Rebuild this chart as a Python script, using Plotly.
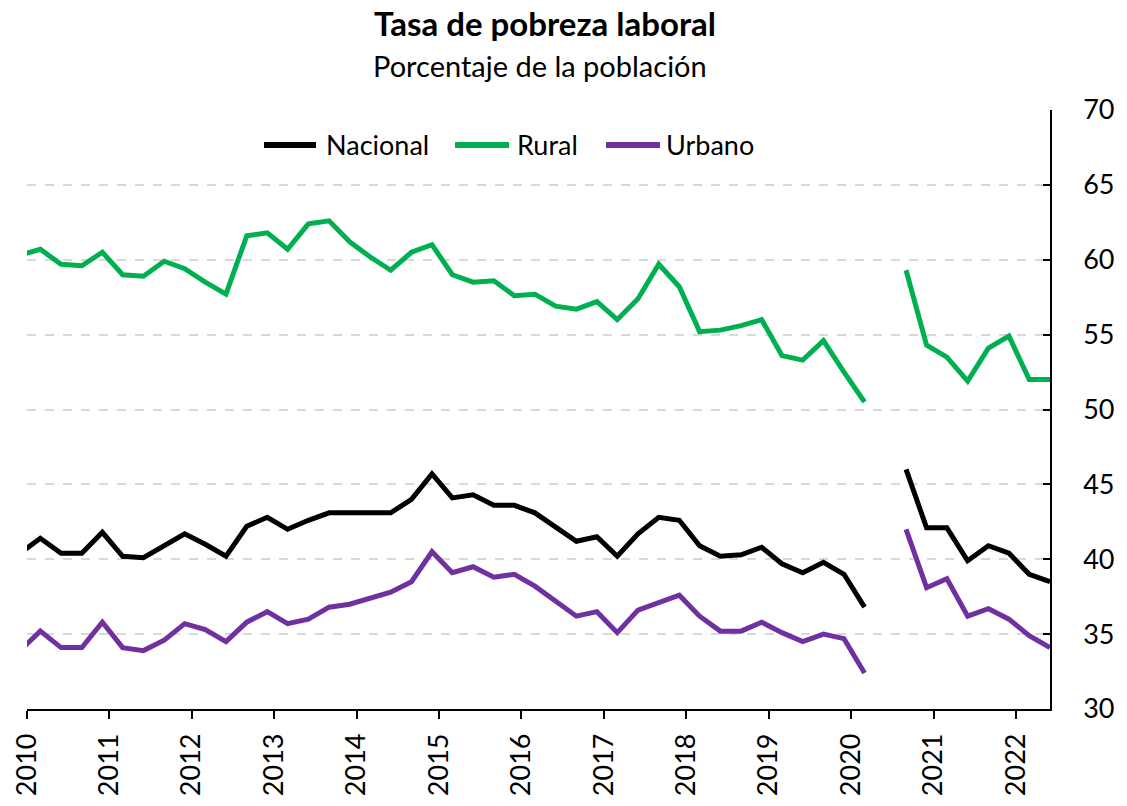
import pandas as pd
import plotly.graph_objects as go

# Quarterly periods (quarter-end months), Dec-2009 .. Jun-2022
periods = pd.date_range("2009-12-01", periods=51, freq="3MS")

nacional = [40.4, 41.4, 40.4, 40.4, 41.8, 40.2, 40.1, 40.9, 41.7, 41.0, 40.2,
            42.2, 42.8, 42.0, 42.6, 43.1, 43.1, 43.1, 43.1, 44.0, 45.7, 44.1,
            44.3, 43.6, 43.6, 43.1, 42.1, 41.2, 41.5, 40.2, 41.7, 42.8, 42.6,
            40.9, 40.2, 40.3, 40.8, 39.7, 39.1, 39.8, 39.0, 36.8,
            None,
            46.0, 42.1, 42.1, 39.9, 40.9, 40.4, 39.0, 38.5]

rural = [60.3, 60.7, 59.7, 59.6, 60.5, 59.0, 58.9, 59.9, 59.4, 58.5, 57.7,
         61.6, 61.8, 60.7, 62.4, 62.6, 61.2, 60.2, 59.3, 60.5, 61.0, 59.0,
         58.5, 58.6, 57.6, 57.7, 56.9, 56.7, 57.2, 56.0, 57.4, 59.7, 58.2,
         55.2, 55.3, 55.6, 56.0, 53.6, 53.3, 54.6, 52.5, 50.5,
         None,
         59.3, 54.3, 53.5, 51.9, 54.1, 54.9, 52.0, 52.0]

urbano = [33.9, 35.2, 34.1, 34.1, 35.8, 34.1, 33.9, 34.6, 35.7, 35.3, 34.5,
          35.8, 36.5, 35.7, 36.0, 36.8, 37.0, 37.4, 37.8, 38.5, 40.5, 39.1,
          39.5, 38.8, 39.0, 38.2, 37.2, 36.2, 36.5, 35.1, 36.6, 37.1, 37.6,
          36.2, 35.2, 35.2, 35.8, 35.1, 34.5, 35.0, 34.7, 32.4,
          None,
          42.0, 38.1, 38.7, 36.2, 36.7, 36.0, 34.9, 34.1]

year_ticks = [str(y) for y in range(2010, 2023)]
y_ticks = [30, 35, 40, 45, 50, 55, 60, 65, 70]

title_text = "Tasa de pobreza laboral"
subtitle_text = "Porcentaje de la población"

series_names = ["Nacional", "Rural", "Urbano"]
series_colors = ["#000000", "#00B050", "#7030A0"]
series_values = [nacional, rural, urbano]

# legend layout (paper fractions of the plot area): swatch start/end, text start
legend_x = [(0.2317, 0.2825, 0.2903), (0.4184, 0.4712, 0.4770), (0.5660, 0.6188, 0.6227)]
legend_y = 0.9416

FONT = "Lato, 'Open Sans', sans-serif"

fig = go.Figure()
for name, vals, color in zip(series_names, series_values, series_colors):
    fig.add_trace(go.Scatter(
        x=periods, y=vals, name=name, mode="lines",
        line=dict(color=color, width=5, shape="linear"),
        connectgaps=False, showlegend=False,
    ))

shapes = []
annotations = [
    dict(text=f"<b>{title_text}</b>", xref="paper", yref="paper",
         x=0.506, y=1.145, xanchor="center", yanchor="middle",
         showarrow=False, font=dict(size=33, family=FONT, color="black")),
    dict(text=subtitle_text, xref="paper", yref="paper",
         x=0.5015, y=1.075, xanchor="center", yanchor="middle",
         showarrow=False, font=dict(size=29, family=FONT, color="black")),
]
for name, color, (x0, x1, xt) in zip(series_names, series_colors, legend_x):
    shapes.append(dict(type="line", xref="paper", yref="paper",
                       x0=x0, x1=x1, y0=legend_y, y1=legend_y,
                       line=dict(color=color, width=6)))
    annotations.append(dict(text=name, xref="paper", yref="paper",
                            x=xt, y=legend_y, xanchor="left", yanchor="middle",
                            showarrow=False,
                            font=dict(size=27, family=FONT, color="black")))

fig.update_layout(
    width=1127, height=806,
    paper_bgcolor="white", plot_bgcolor="white",
    margin=dict(l=27, r=77, t=110, b=97, autoexpand=False),
    font=dict(family=FONT, size=20, color="black"),
    showlegend=False,
    hovermode=False,
    shapes=shapes,
    annotations=annotations,
)

fig.update_xaxes(
    type="date",
    range=["2010-01-01", "2022-06-01"],
    tickvals=[f"{y}-01-01" for y in year_ticks],
    ticktext=year_ticks,
    tickangle=-90,
    ticks="outside", ticklen=8, tickcolor="black", tickwidth=1.5,
    showline=True, linecolor="black", linewidth=1.5,
    showgrid=False, zeroline=False, automargin=False,
    ticklabelstandoff=4,
    tickfont=dict(size=27, family=FONT),
)

fig.update_yaxes(
    side="right",
    range=[30, 70],
    tickvals=y_ticks,
    ticks="inside", ticklen=7, tickcolor="black", tickwidth=1.5,
    showline=True, linecolor="black", linewidth=1.5,
    showgrid=True, gridcolor="#D9D9D9", griddash="dash", gridwidth=1.5,
    zeroline=False, automargin=False,
    ticklabelstandoff=26,
    tickfont=dict(size=27, family=FONT),
)

fig.write_html("out.html", config={"displayModeBar": False},
               post_script="document.body.style.margin='0';")
